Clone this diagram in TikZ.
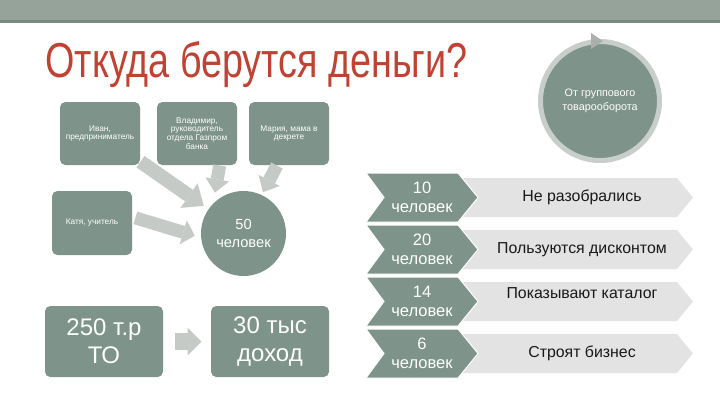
\documentclass[tikz,border=0pt]{standalone}
\usepackage{fontspec}
\setmainfont{Liberation Sans}
\newfontfamily\titlefont[FakeStretch=0.77]{Liberation Sans}
\usetikzlibrary{arrows.meta}

\definecolor{bandgray}{RGB}{149,163,155}
\definecolor{banddark}{RGB}{122,137,129}
\definecolor{titlered}{RGB}{192,66,50}
\definecolor{boxgreen}{RGB}{126,147,137}
\definecolor{ringgray}{RGB}{200,206,202}
\definecolor{arrowgray}{RGB}{197,202,199}
\definecolor{lightbar}{RGB}{227,227,227}

\tikzset{every picture/.style={line width=0.75pt}}
\tikzset{
  greenbox/.style={rectangle, rounded corners=4pt, fill=boxgreen, text=white, align=center, inner sep=1pt},
  smalltext/.style={font=\fontsize{6.2}{6.5}\selectfont},
  bigtext/.style={font=\fontsize{18}{21}\selectfont},
  fatarrow/.style={draw=arrowgray, line width=10.5pt, -{Triangle[width=22.5pt,length=13.5pt,line width=0pt]}},
  thinarrow/.style={draw=arrowgray, line width=9.75pt, -{Triangle[width=18pt,length=10pt,line width=0pt]}},
  counttext/.style={text=white, align=center, font=\fontsize{12.4}{14}\selectfont, inner sep=0},
  bartext/.style={text=black!90, font=\fontsize{11.9}{14}\selectfont, inner sep=0},
}

\begin{document}
\begin{tikzpicture}[x=0.75pt,y=0.75pt,yscale=-1,xscale=1]
	\useasboundingbox (0,0) rectangle (720,405);

	%Shape: Band
	\fill[bandgray] (0,0) rectangle (720,20);
	\fill[banddark] (0,20) rectangle (720,22.5);

	% Text Node
	\draw (45,77) node[anchor=base west, text=titlered, inner sep=0, font=\titlefont\fontsize{36.75}{40}\selectfont] (title) {Откуда берутся деньги?};

	%Shape: Circle
	\node[circle, draw=ringgray, line width=3.75pt, fill=boxgreen, minimum size=89.25pt, text=white, align=center, font=\fontsize{8.1}{10.5}\selectfont] (turnover) at (600,101) {От группового\\товарооборота};
	\fill[ringgray!85!black] (591,33) -- (603,41) -- (591,49) -- cycle;

	% Box Nodes
	\node[greenbox, smalltext, minimum width=60pt, minimum height=47.25pt] (ivan) at (100,133.5) {Иван,\\предприниматель};
	\node[greenbox, smalltext, minimum width=60pt, minimum height=47.25pt] (vlad) at (197,133.5) {Владимир,\\руководитель\\отдела Газпром\\банка};
	\node[greenbox, smalltext, minimum width=60pt, minimum height=47.25pt] (maria) at (289,133.5) {Мария, мама в\\декрете};
	\node[greenbox, smalltext, minimum width=60pt, minimum height=48pt] (katya) at (92,223) {Катя, учитель};
	\node[circle, fill=boxgreen, text=white, align=center, minimum size=63.75pt, inner sep=0, font=\fontsize{11}{14}\selectfont] (fifty) at (243.5,233.5) {50\\человек};
	\node[greenbox, bigtext, minimum width=88.5pt, minimum height=53.25pt] (turn250) at (104,341.5) {250 т.р\\ТО};
	\node[greenbox, bigtext, minimum width=88.5pt, minimum height=53.25pt] (income) at (270,341.5) {30 тыс\\доход};

	% Arrows
	\draw[fatarrow, shorten >=4pt] (ivan) -- (fifty);
	\draw[thinarrow, shorten >=8pt] ([xshift=17pt]vlad.south) -- (fifty.north west);
	\draw[thinarrow, shorten >=2pt] ([xshift=-9pt]maria.south) -- (fifty.65);
	\draw[thinarrow, line width=9.75pt, -{Triangle[width=18.75pt,length=9pt,line width=0pt]}, shorten <=2.25pt, shorten >=4.5pt] ([yshift=-4.5pt]katya.east) -- ([yshift=3pt]fifty.west);
	\draw[draw=arrowgray, line width=12.75pt, -{Triangle[width=21pt,length=10.5pt,line width=0pt]}, shorten <=8.25pt, shorten >=6.75pt] (turn250) -- (income);

	% Chevron rows
	\foreach \t/\n/\txt/\dy in {173/10/Не разобрались/0, 225/20/Пользуются дисконтом/0, 277/14/Показывают каталог/-8, 329/6/Строят бизнес/0}{
		\fill[lightbar] (460,\t+5) -- (677,\t+5) -- (693,\t+24.5) -- (677,\t+44) -- (460,\t+44) -- cycle;
		\filldraw[fill=boxgreen, draw=white] (366,\t) -- (458,\t) -- (478,\t+24.5) -- (458,\t+49) -- (366,\t+49) -- (384,\t+24.5) -- cycle;
		\node[counttext] (count\n) at (422,\t+24.5) {\n\\человек};
		\node[bartext] (reason\n) at (582,\t+24.5+\dy) {\txt};
	}

\end{tikzpicture}
\end{document}
